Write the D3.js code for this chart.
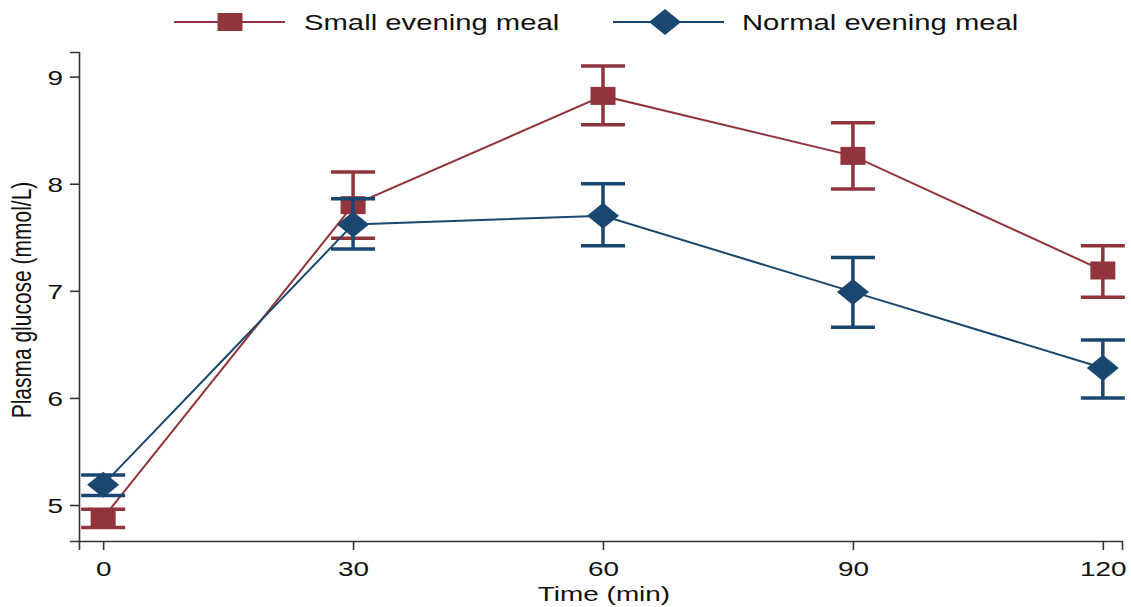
<!DOCTYPE html>
<html>
<head>
<meta charset="utf-8">
<script src="https://cdn.jsdelivr.net/npm/d3@7"></script>
<style>
  body { margin: 0; background: #fff; }
  text { font-family: "Liberation Sans", Arial, sans-serif; fill: #111; }
</style>
</head>
<body>
<script>
// data
var times = [0, 30, 60, 90, 120];
var smallMean = [4.88, 7.80, 8.82, 8.26, 7.19];
var smallLo = [4.79, 7.49, 8.55, 7.95, 6.94];
var smallHi = [4.96, 8.11, 9.10, 8.57, 7.42];
var normalMean = [5.19, 7.62, 7.70, 6.99, 6.28];
var normalLo = [5.09, 7.39, 7.42, 6.66, 6.00];
var normalHi = [5.28, 7.86, 8.00, 7.31, 6.54];
var xTicks = [0, 30, 60, 90, 120];
var yTicks = [5, 6, 7, 8, 9];
var seriesNames = ["Small evening meal", "Normal evening meal"];

var W = 1131, H = 607;
var SX = 1.33; // the source image is stretched sideways
var red = "#90353b", blue = "#1a476f";

var svg = d3.select("body").append("svg")
  .attr("width", W)
  .attr("height", H);

var x = d3.scaleLinear().domain([-2.9, 122.3]).range([79, 1122]);
var y = d3.scaleLinear().domain([4.664, 9.23]).range([541, 52]);

// axes
var xAxis = d3.axisBottom(x).tickValues(xTicks).tickSizeOuter(0).tickSize(9).tickPadding(11);
var yAxis = d3.axisLeft(y).tickValues(yTicks).tickFormat(d3.format("d")).tickSizeOuter(0).tickSize(9).tickPadding(3);

var gx = svg.append("g").attr("transform", "translate(0,541)").call(xAxis);
var gy = svg.append("g").attr("transform", "translate(79,0)").call(yAxis);

[gx, gy].forEach(function (g) {
  g.selectAll("path, line").attr("stroke", "#333").attr("stroke-width", 1.6);
  g.selectAll("text")
    .style("font-size", "21px")
    .attr("fill", "#111");
});
gx.selectAll("text").attr("transform", "scale(" + SX + ",1)").attr("dy", "0.71em");
gy.selectAll("text").attr("transform", "scale(" + SX + ",1)").attr("dy", "0.36em");

// axis titles
svg.append("text")
  .attr("transform", "translate(604,601) scale(" + SX + ",1)")
  .attr("text-anchor", "middle")
  .style("font-size", "21px")
  .text("Time (min)");

svg.append("text")
  .attr("transform", "translate(31,300) scale(" + SX + ",1) rotate(-90)")
  .attr("text-anchor", "middle")
  .style("font-size", "21px")
  .text("Plasma glucose (mmol/L)");

var series = [
  { name: seriesNames[0], color: red, shape: "square", mean: smallMean, lo: smallLo, hi: smallHi },
  { name: seriesNames[1], color: blue, shape: "diamond", mean: normalMean, lo: normalLo, hi: normalHi }
];

function marker(g, shape, color) {
  if (shape === "square") {
    g.append("rect")
      .attr("x", -12.5).attr("y", -9)
      .attr("width", 25).attr("height", 18)
      .attr("fill", color);
  } else {
    g.append("path")
      .attr("d", "M0,-13L16,0L0,13L-16,0Z")
      .attr("fill", color);
  }
}

var line = d3.line()
  .x(function (d) { return x(d.t); })
  .y(function (d) { return y(d.m); });

series.forEach(function (s) {
  var pts = times.map(function (t, i) {
    return { t: t, m: s.mean[i], lo: s.lo[i], hi: s.hi[i] };
  });
  var g = svg.append("g");

  g.append("path")
    .datum(pts)
    .attr("d", line)
    .attr("fill", "none")
    .attr("stroke", s.color)
    .attr("stroke-width", 2);

  var eb = g.selectAll(".eb").data(pts).enter().append("g");
  eb.append("line")
    .attr("x1", function (d) { return x(d.t); })
    .attr("x2", function (d) { return x(d.t); })
    .attr("y1", function (d) { return y(d.lo); })
    .attr("y2", function (d) { return y(d.hi); })
    .attr("stroke", s.color).attr("stroke-width", 3.5);
  ["lo", "hi"].forEach(function (k) {
    eb.append("line")
      .attr("x1", function (d) { return x(d.t) - 22; })
      .attr("x2", function (d) { return x(d.t) + 22; })
      .attr("y1", function (d) { return y(d[k]); })
      .attr("y2", function (d) { return y(d[k]); })
      .attr("stroke", s.color).attr("stroke-width", 3.5);
  });

  g.selectAll(".mk").data(pts).enter().append("g")
    .attr("transform", function (d) { return "translate(" + x(d.t) + "," + y(d.m) + ")"; })
    .each(function () { marker(d3.select(this), s.shape, s.color); });
});

// legend
var legendX = [174, 613];
series.forEach(function (s, i) {
  var lg = svg.append("g").attr("transform", "translate(" + legendX[i] + ",22)");
  lg.append("line")
    .attr("x1", 0).attr("x2", 111)
    .attr("stroke", s.color).attr("stroke-width", 2);
  var m = lg.append("g").attr("transform", "translate(" + (i === 0 ? 56 : 52) + ",0)");
  marker(m, s.shape, s.color);
  lg.append("text")
    .attr("transform", "translate(" + (i === 0 ? 130 : 129) + ",8) scale(" + SX + ",1)")
    .style("font-size", "22px")
    .text(s.name);
});
</script>
</body>
</html>
